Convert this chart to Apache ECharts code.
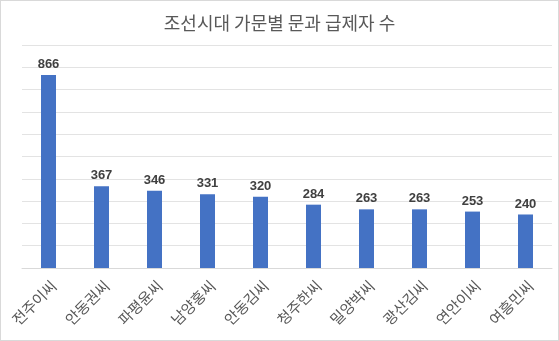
<!DOCTYPE html>
<html><head><meta charset="utf-8">
<script src="https://cdn.jsdelivr.net/npm/echarts@6/dist/echarts.min.js"></script>
<style>html,body{margin:0;padding:0;background:#fff;}#c{position:absolute;left:0;top:0;width:557px;height:339px;border:1px solid #d9d9d9;}</style>
</head><body><div id="c"></div>
<script>
const title = '조선시대 가문별 문과 급제자 수';
const categories = ['전주이씨','안동권씨','파평윤씨','남양홍씨','안동김씨','청주한씨','밀양박씨','광산김씨','연안이씨','여흥민씨'];
const values = [866, 367, 346, 331, 320, 284, 263, 263, 253, 240];
const yMin = 0, yMax = 1000, yStep = 100;

const chart = echarts.init(document.getElementById('c'), null, {renderer:'canvas'});
chart.setOption({
  animation:false,
  title:{text:title,left:'center',top:8,textStyle:{fontFamily:'Noto Sans CJK KR',fontSize:18,fontWeight:'normal',color:'#595959'}},
  grid:{left:21,right:6,top:44,bottom:72},
  xAxis:{type:'category',data:categories,
    axisLine:{lineStyle:{color:'#d9d9d9'}},axisTick:{show:false},
    axisLabel:{rotate:45,interval:0,margin:10,verticalAlign:'top',fontFamily:'Noto Sans CJK KR',fontSize:15,color:'#595959'}},
  yAxis:{type:'value',min:yMin,max:yMax,interval:yStep,
    axisLabel:{show:false},axisLine:{show:false},axisTick:{show:false},
    splitLine:{lineStyle:{color:'#e3e3e3',width:1}}},
  series:[{type:'bar',data:values,barWidth:15,itemStyle:{color:'#4472C4'},
    label:{show:true,position:'top',distance:4,fontFamily:'Liberation Sans',fontWeight:'bold',fontSize:13,color:'#404040'}}]
});
</script></body></html>
